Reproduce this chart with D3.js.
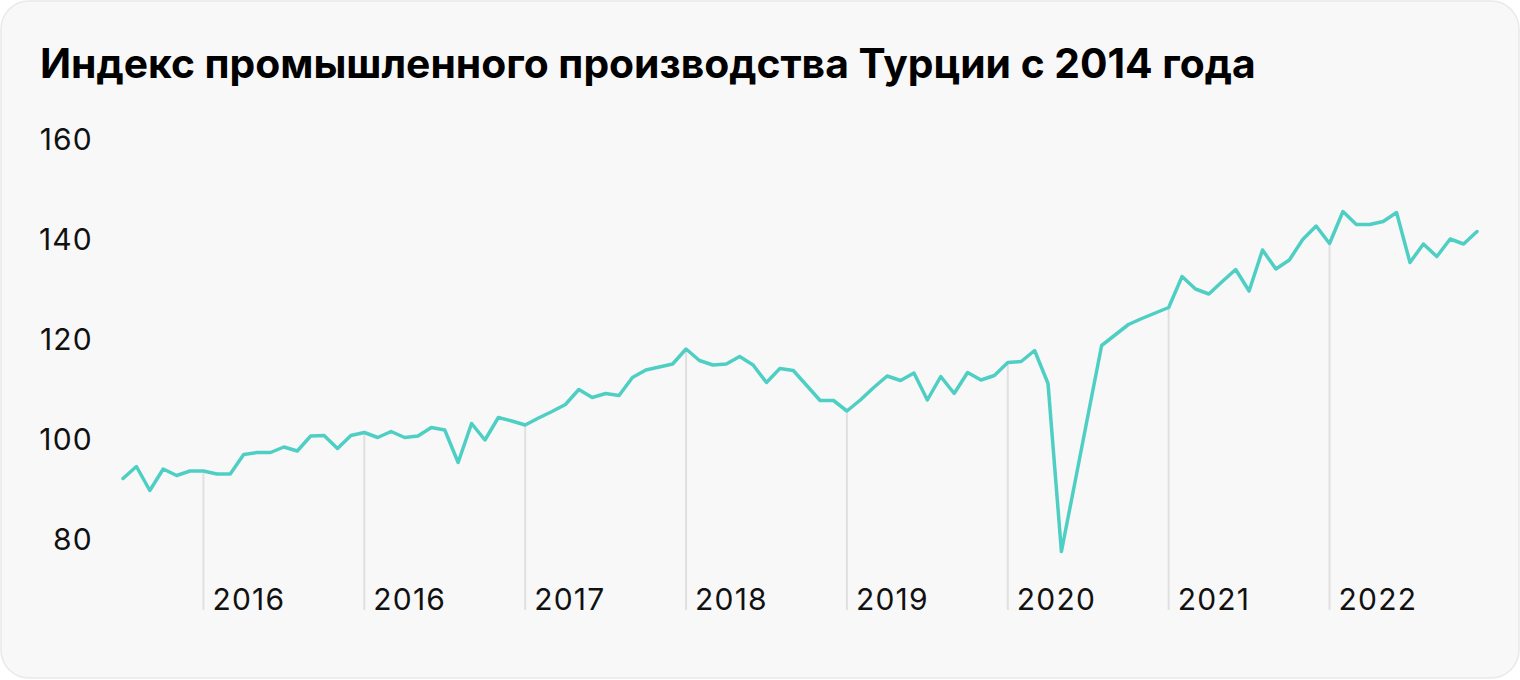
<!DOCTYPE html>
<html><head><meta charset="utf-8">
<script src="https://cdn.jsdelivr.net/npm/d3@7"></script>
<style>html,body{margin:0;padding:0;background:#ffffff;}</style>
</head><body>
<svg id="chart" width="1520" height="680"></svg>
<script>
// ---- data ----
const titleText = "Индекс промышленного производства Турции с 2014 года";
const firstMonth = [2014, 6]; // July 2014 (year, zero-based month)
const values2014 = [92.1, 94.5, 89.7, 94.0, 92.7, 93.6];
const values2015 = [93.6, 93.0, 93.0, 96.9, 97.3, 97.3, 98.4, 97.6, 100.6, 100.7, 98.1, 100.7];
const values2016 = [101.3, 100.3, 101.5, 100.3, 100.6, 102.3, 101.8, 95.3, 103.1, 99.8, 104.3, 103.6];
const values2017 = [102.8, 104.2, 105.5, 106.9, 109.9, 108.3, 109.1, 108.7, 112.3, 113.8, 114.4, 115.0];
const values2018 = [118.0, 115.7, 114.8, 115.0, 116.5, 114.8, 111.3, 114.1, 113.7, 110.7, 107.7, 107.7];
const values2019 = [105.6, 107.8, 110.3, 112.6, 111.7, 113.2, 107.8, 112.5, 109.1, 113.3, 111.8, 112.7];
const values2020 = [115.3, 115.5, 117.7, 111.1, 77.5, 91.2, 105.0, 118.7, 120.8, 122.9, 124.1, 125.2];
const values2021 = [126.3, 132.5, 130.0, 129.0, 131.5, 133.9, 129.6, 137.8, 134.0, 135.8, 139.9, 142.6];
const values2022 = [139.1, 145.5, 142.9, 142.9, 143.5, 145.3, 135.3, 139.0, 136.5, 140.0, 139.0, 141.5];
const yTickValues = [80, 100, 120, 140, 160];
const xTickLabels = ["2016", "2016", "2017", "2018", "2019", "2020", "2021", "2022"];

// ---- build series ----
const values = [].concat(values2014, values2015, values2016, values2017, values2018,
                         values2019, values2020, values2021, values2022);
const start = new Date(firstMonth[0], firstMonth[1], 1);
const data = values.map((v, i) => ({ date: d3.timeMonth.offset(start, i), value: v }));

const svg = d3.select("#chart");
const FONT = "Inter, 'Liberation Sans', sans-serif";

// card background
svg.append("rect")
  .attr("x", 1).attr("y", 1).attr("width", 1518).attr("height", 677)
  .attr("rx", 28).attr("ry", 28)
  .attr("fill", "#f8f8f8").attr("stroke", "#e9e9e9").attr("stroke-width", 1.5);

// title
svg.append("text")
  .attr("x", 40).attr("y", 78)
  .attr("font-family", FONT)
  .attr("font-weight", 700).attr("font-size", 40.8)
  .attr("fill", "#000")
  .text(titleText);

// scales
const x = d3.scalePoint()
  .domain(data.map(d => +d.date))
  .range([123, 1477]);
const y = d3.scaleLinear().domain([80, 160]).range([539, 139]);

const baseY = 610;

// January drop lines + labels
const januaries = data.filter(d => d.date.getMonth() === 0);
svg.append("g").selectAll("line")
  .data(januaries).join("line")
  .attr("x1", d => x(+d.date)).attr("x2", d => x(+d.date))
  .attr("y1", d => y(d.value)).attr("y2", baseY)
  .attr("stroke", "#e0e0e0").attr("stroke-width", 2);

svg.append("g").selectAll("text")
  .data(januaries).join("text")
  .attr("x", d => x(+d.date) + 9)
  .attr("y", baseY)
  .attr("font-family", FONT)
  .attr("font-size", 30).attr("letter-spacing", 1.2).attr("fill", "#111")
  .text((d, i) => xTickLabels[i]);

// y labels
svg.append("g").selectAll("text")
  .data(yTickValues).join("text")
  .attr("x", 93).attr("y", d => y(d))
  .attr("text-anchor", "end").attr("dominant-baseline", "central")
  .attr("font-family", FONT)
  .attr("font-size", 30).attr("letter-spacing", 1.2).attr("fill", "#111")
  .text(d => d);

// line
const line = d3.line().x(d => x(+d.date)).y(d => y(d.value));
svg.append("path")
  .datum(data)
  .attr("d", line)
  .attr("fill", "none")
  .attr("stroke", "#4fcfc4")
  .attr("stroke-width", 3.5)
  .attr("stroke-linejoin", "round")
  .attr("stroke-linecap", "round");
</script>
</body></html>
